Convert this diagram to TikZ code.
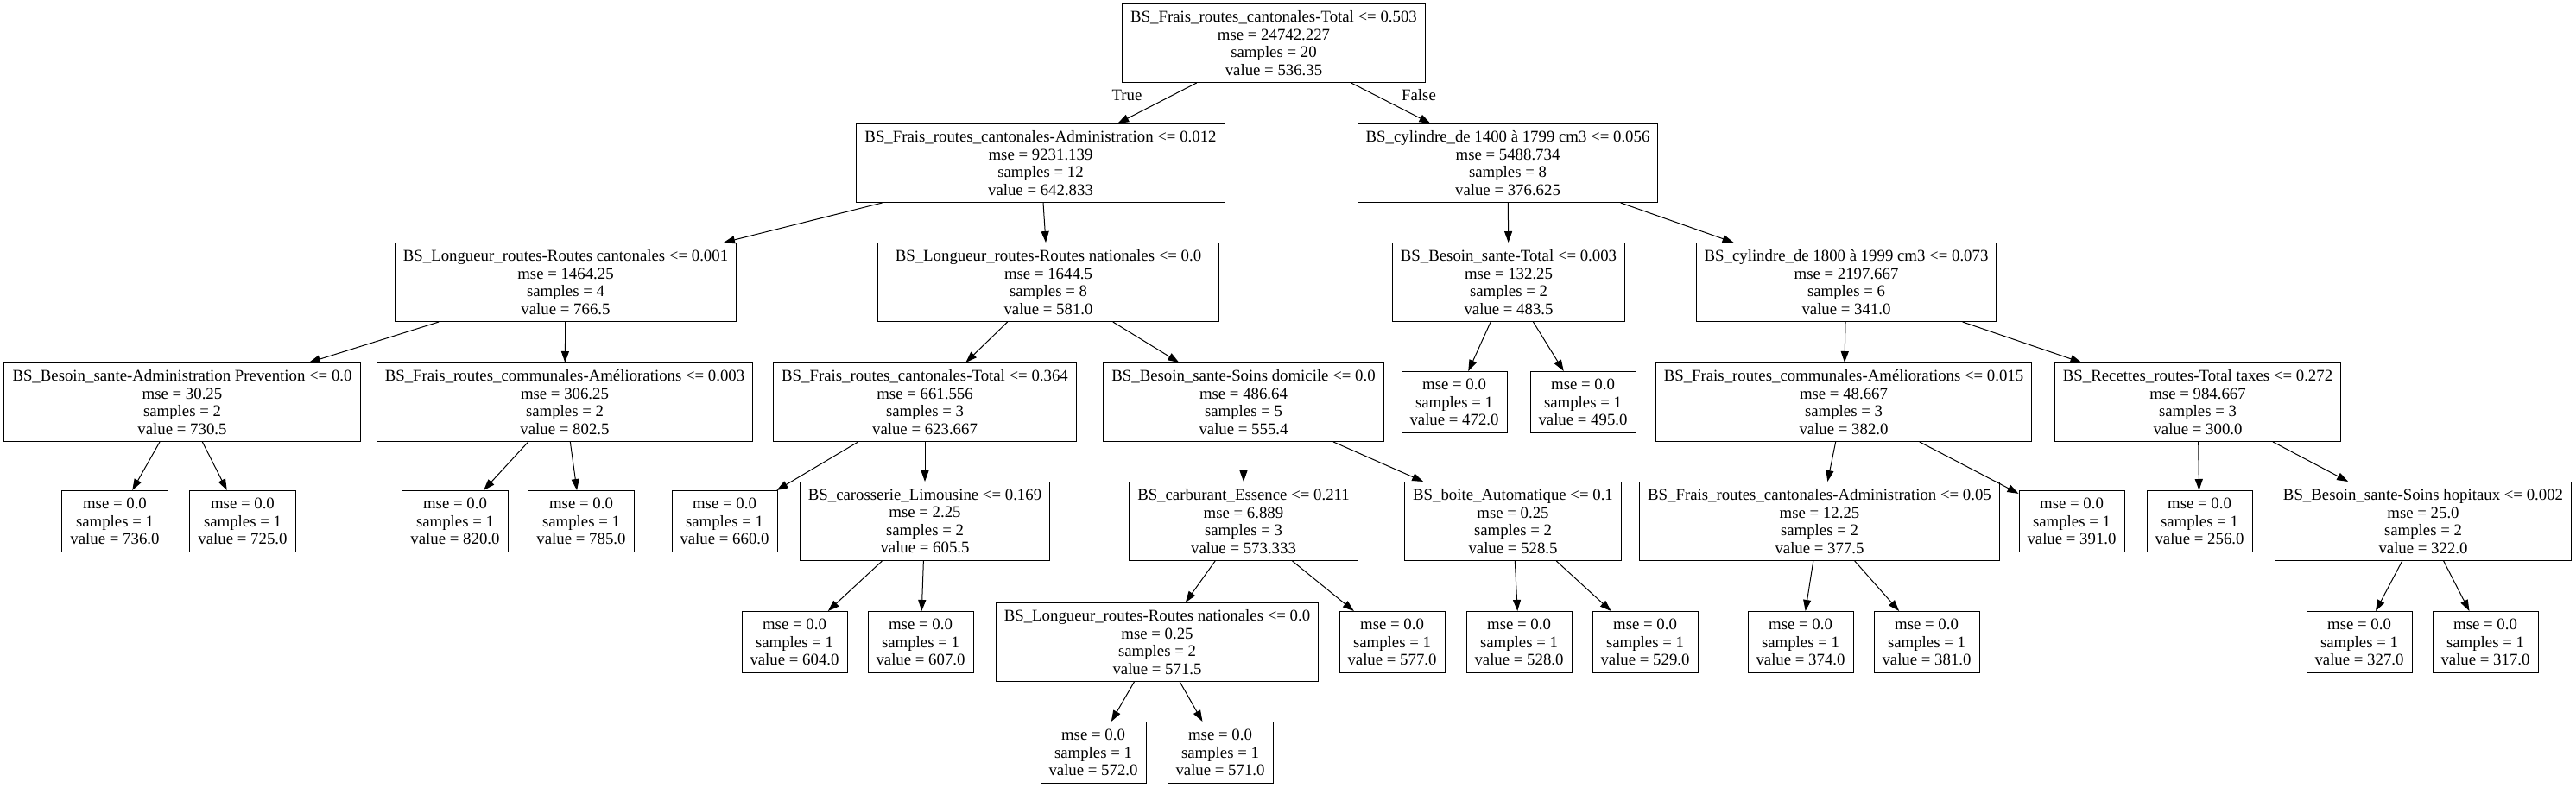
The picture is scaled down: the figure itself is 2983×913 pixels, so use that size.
\documentclass[tikz,border=0pt]{standalone}
\usepackage{fontspec}
\setmainfont{Liberation Serif}
\usetikzlibrary{arrows.meta}

\begin{document}
\begin{tikzpicture}[
    x=1pt, y=-1pt,
    font=\fontsize{18.8}{20.5}\selectfont,
    split/.style={draw, rectangle, line width=1pt, align=center, inner xsep=9.5pt, inner ysep=0pt, minimum height=91pt},
    leaf/.style={split, minimum height=71pt},
    edge/.style={-{Triangle[length=13pt, width=9pt]}, line width=1pt}
]
    \useasboundingbox (0,0) rectangle (2983,913);

    % rank 0 / 1
    \node[split] (n0) at (1475,50) {BS\_Frais\_routes\_cantonales-Total <= 0.503\\mse = 24742.227\\samples = 20\\value = 536.35};
    \node[split] (n1) at (1205,189) {BS\_Frais\_routes\_cantonales-Administration <= 0.012\\mse = 9231.139\\samples = 12\\value = 642.833};
    \node[split] (n24) at (1746,189) {BS\_cylindre\_de 1400 à 1799 cm3 <= 0.056\\mse = 5488.734\\samples = 8\\value = 376.625};

    % rank 2
    \node[split] (n2) at (655,327) {BS\_Longueur\_routes-Routes cantonales <= 0.001\\mse = 1464.25\\samples = 4\\value = 766.5};
    \node[split, minimum width=395pt] (n9) at (1214,327) {BS\_Longueur\_routes-Routes nationales <= 0.0\\mse = 1644.5\\samples = 8\\value = 581.0};
    \node[split] (n25) at (1747,327) {BS\_Besoin\_sante-Total <= 0.003\\mse = 132.25\\samples = 2\\value = 483.5};
    \node[split] (n28) at (2138,327) {BS\_cylindre\_de 1800 à 1999 cm3 <= 0.073\\mse = 2197.667\\samples = 6\\value = 341.0};

    % rank 3
    \node[split] (n3) at (211,466) {BS\_Besoin\_sante-Administration Prevention <= 0.0\\mse = 30.25\\samples = 2\\value = 730.5};
    \node[split] (n6) at (654,466) {BS\_Frais\_routes\_communales-Améliorations <= 0.003\\mse = 306.25\\samples = 2\\value = 802.5};
    \node[split] (n10) at (1071,466) {BS\_Frais\_routes\_cantonales-Total <= 0.364\\mse = 661.556\\samples = 3\\value = 623.667};
    \node[split] (n15) at (1440,466) {BS\_Besoin\_sante-Soins domicile <= 0.0\\mse = 486.64\\samples = 5\\value = 555.4};
    \node[leaf] (n26) at (1684,466) {mse = 0.0\\samples = 1\\value = 472.0};
    \node[leaf] (n27) at (1833,466) {mse = 0.0\\samples = 1\\value = 495.0};
    \node[split] (n29) at (2135,466) {BS\_Frais\_routes\_communales-Améliorations <= 0.015\\mse = 48.667\\samples = 3\\value = 382.0};
    \node[split] (n34) at (2545,466) {BS\_Recettes\_routes-Total taxes <= 0.272\\mse = 984.667\\samples = 3\\value = 300.0};

    % rank 4
    \node[leaf] (n4) at (133,604) {mse = 0.0\\samples = 1\\value = 736.0};
    \node[leaf] (n5) at (281,604) {mse = 0.0\\samples = 1\\value = 725.0};
    \node[leaf] (n7) at (527,604) {mse = 0.0\\samples = 1\\value = 820.0};
    \node[leaf] (n8) at (673,604) {mse = 0.0\\samples = 1\\value = 785.0};
    \node[leaf] (n11) at (839,604) {mse = 0.0\\samples = 1\\value = 660.0};
    \node[split] (n12) at (1071,604) {BS\_carosserie\_Limousine <= 0.169\\mse = 2.25\\samples = 2\\value = 605.5};
    \node[split] (n16) at (1440,604) {BS\_carburant\_Essence <= 0.211\\mse = 6.889\\samples = 3\\value = 573.333};
    \node[split] (n21) at (1752,604) {BS\_boite\_Automatique <= 0.1\\mse = 0.25\\samples = 2\\value = 528.5};
    \node[split] (n30) at (2107,604) {BS\_Frais\_routes\_cantonales-Administration <= 0.05\\mse = 12.25\\samples = 2\\value = 377.5};
    \node[leaf] (n33) at (2399,604) {mse = 0.0\\samples = 1\\value = 391.0};
    \node[leaf] (n35) at (2547,604) {mse = 0.0\\samples = 1\\value = 256.0};
    \node[split] (n36) at (2806,604) {BS\_Besoin\_sante-Soins hopitaux <= 0.002\\mse = 25.0\\samples = 2\\value = 322.0};

    % rank 5
    \node[leaf] (n13) at (920,744) {mse = 0.0\\samples = 1\\value = 604.0};
    \node[leaf] (n14) at (1066,744) {mse = 0.0\\samples = 1\\value = 607.0};
    \node[split] (n17) at (1340,744) {BS\_Longueur\_routes-Routes nationales <= 0.0\\mse = 0.25\\samples = 2\\value = 571.5};
    \node[leaf] (n20) at (1612,744) {mse = 0.0\\samples = 1\\value = 577.0};
    \node[leaf] (n22) at (1759,744) {mse = 0.0\\samples = 1\\value = 528.0};
    \node[leaf] (n23) at (1905,744) {mse = 0.0\\samples = 1\\value = 529.0};
    \node[leaf] (n31) at (2085,744) {mse = 0.0\\samples = 1\\value = 374.0};
    \node[leaf] (n32) at (2231,744) {mse = 0.0\\samples = 1\\value = 381.0};
    \node[leaf] (n37) at (2732,744) {mse = 0.0\\samples = 1\\value = 327.0};
    \node[leaf] (n38) at (2878,744) {mse = 0.0\\samples = 1\\value = 317.0};

    % rank 6
    \node[leaf] (n18) at (1266,872) {mse = 0.0\\samples = 1\\value = 572.0};
    \node[leaf] (n19) at (1413,872) {mse = 0.0\\samples = 1\\value = 571.0};

    \node (ltrue) at (1305,110) {True};
    \node (lfalse) at (1643,110) {False};

    \draw[edge] (n0) -- (n1);
    \draw[edge] (n0) -- (n24);
    \draw[edge] (n1) -- (n2);
    \draw[edge] (n1) -- (n9);
    \draw[edge] (n2) -- (n3);
    \draw[edge] (n2) -- (n6);
    \draw[edge] (n3) -- (n4);
    \draw[edge] (n3) -- (n5);
    \draw[edge] (n6) -- (n7);
    \draw[edge] (n6) -- (n8);
    \draw[edge] (n9) -- (n10);
    \draw[edge] (n9) -- (n15);
    \draw[edge] (n10) -- (n11);
    \draw[edge] (n10) -- (n12);
    \draw[edge] (n12) -- (n13);
    \draw[edge] (n12) -- (n14);
    \draw[edge] (n15) -- (n16);
    \draw[edge] (n15) -- (n21);
    \draw[edge] (n16) -- (n17);
    \draw[edge] (n16) -- (n20);
    \draw[edge] (n17) -- (n18);
    \draw[edge] (n17) -- (n19);
    \draw[edge] (n21) -- (n22);
    \draw[edge] (n21) -- (n23);
    \draw[edge] (n24) -- (n25);
    \draw[edge] (n24) -- (n28);
    \draw[edge] (n25) -- (n26);
    \draw[edge] (n25) -- (n27);
    \draw[edge] (n28) -- (n29);
    \draw[edge] (n28) -- (n34);
    \draw[edge] (n29) -- (n30);
    \draw[edge] (n29) -- (n33);
    \draw[edge] (n30) -- (n31);
    \draw[edge] (n30) -- (n32);
    \draw[edge] (n34) -- (n35);
    \draw[edge] (n34) -- (n36);
    \draw[edge] (n36) -- (n37);
    \draw[edge] (n36) -- (n38);
\end{tikzpicture}
\end{document}
